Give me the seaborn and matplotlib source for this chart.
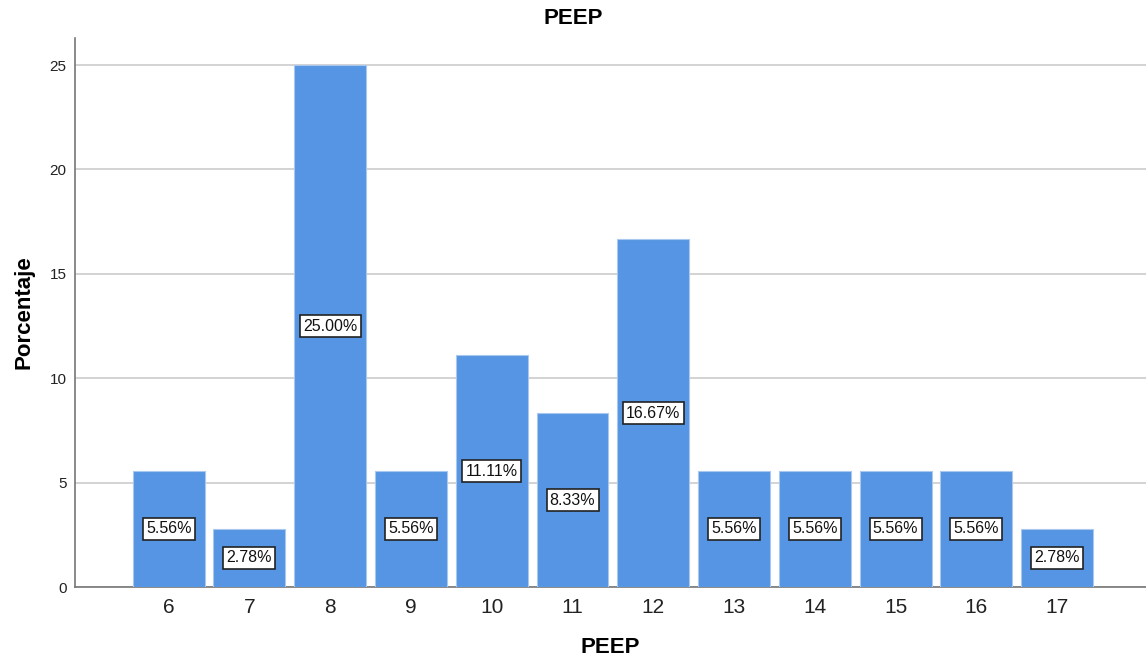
import pandas as pd
import matplotlib.pyplot as plt
import seaborn as sns

# PEEP distribution (percent of patients)
peep_levels = ["6", "7", "8", "9", "10", "11", "12", "13", "14", "15", "16", "17"]
percentages = [5.56, 2.78, 25.00, 5.56, 11.11, 8.33, 16.67, 5.56, 5.56, 5.56, 5.56, 2.78]

df = pd.DataFrame({"PEEP": peep_levels, "Porcentaje": percentages})

sns.set_style("white")
plt.rcParams["font.family"] = ["Liberation Sans", "DejaVu Sans"]

fig = plt.figure(figsize=(11.46, 6.66), dpi=100)
ax = fig.add_axes([0.0654, 0.1186, 0.9346, 0.8244])

sns.barplot(data=df, x="PEEP", y="Porcentaje", order=peep_levels, color="#5595E3",
            saturation=1, width=0.89, edgecolor="#A9C8F0", linewidth=0.8, ax=ax, zorder=3)

for i, v in enumerate(percentages):
    ax.text(i, v / 2, f"{v:.2f}%", ha="center", va="center", fontsize=11.5, color="#111111",
            zorder=5, bbox=dict(boxstyle="square,pad=0.2", fc="white", ec="#222222", lw=1.2))

ax.set_xlim(-1.16, 12.1)
ax.set_ylim(0, 26.3)
ax.set_yticks([0, 5, 10, 15, 20, 25])
ax.yaxis.grid(True, color="#CCCCCC", linewidth=1.2, zorder=0)
ax.set_axisbelow(True)

for side in ["top", "right"]:
    ax.spines[side].set_visible(False)
ax.spines["left"].set_color("#777777")
ax.spines["bottom"].set_color("#777777")
ax.spines["left"].set_linewidth(1.2)
ax.spines["bottom"].set_linewidth(1.2)

ax.tick_params(axis="x", length=0, labelsize=15, pad=8, colors="#222222")
ax.tick_params(axis="y", length=0, labelsize=11, pad=6, colors="#222222")

fig.suptitle("PEEP", x=0.5, y=1 - 19 / 666, va="center", fontsize=16, fontweight="bold",
             color="black")
ax.set_xlabel("PEEP", fontsize=16, fontweight="bold", labelpad=14, color="black")
ax.set_ylabel("Porcentaje", fontsize=16, fontweight="bold", labelpad=11, color="black")

plt.savefig("out.png", dpi=100)
